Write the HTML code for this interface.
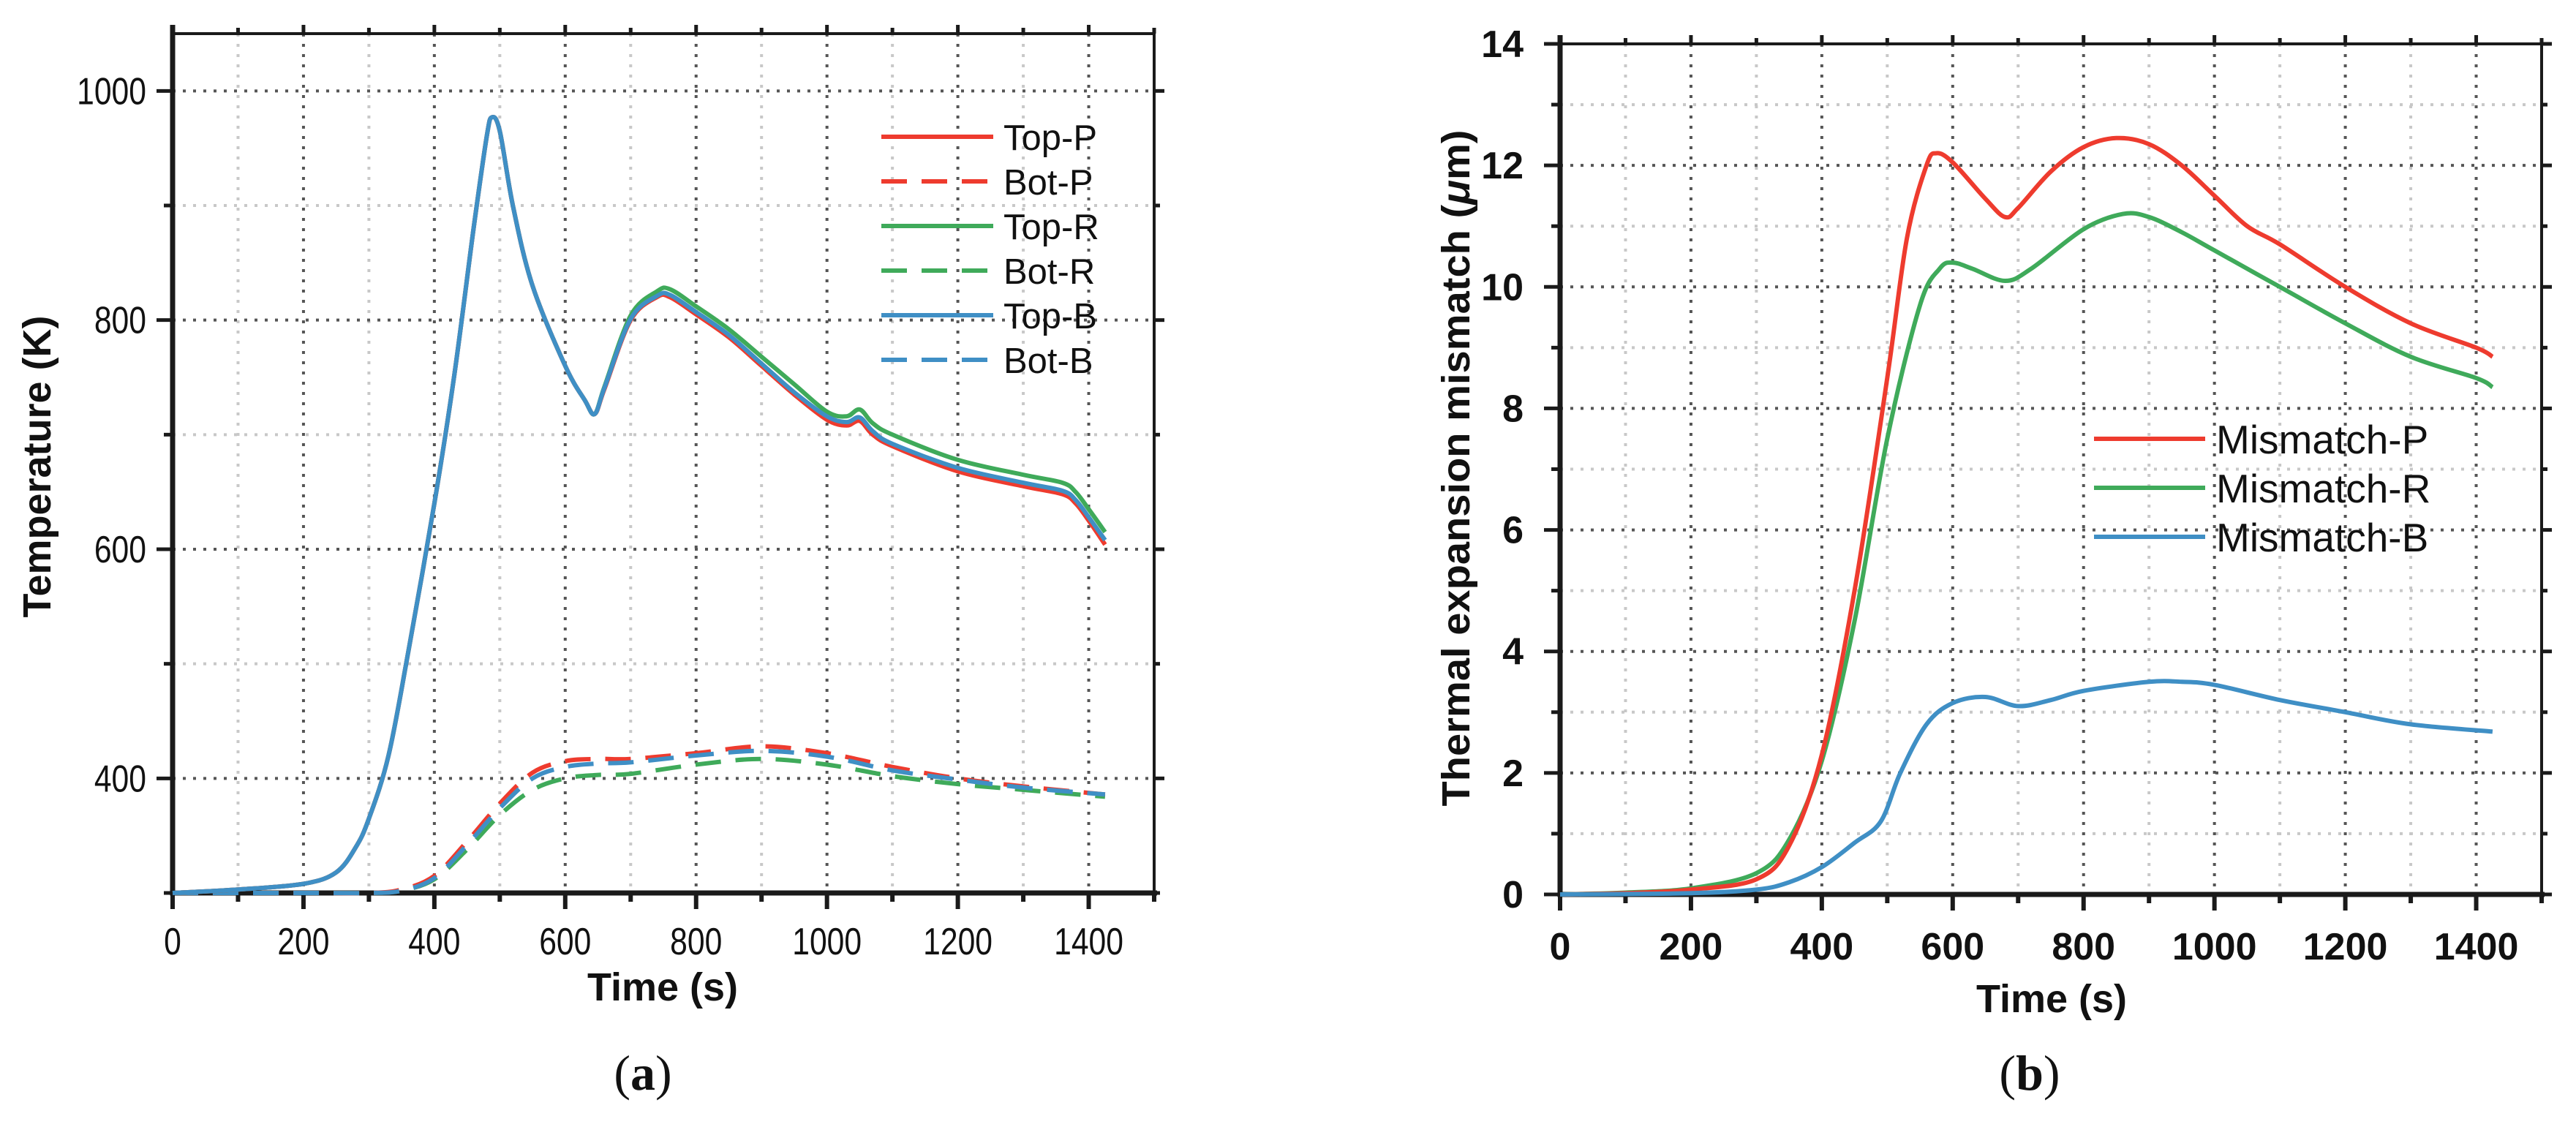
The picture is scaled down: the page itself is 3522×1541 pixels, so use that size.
<!DOCTYPE html>
<html><head><meta charset="utf-8">
<style>
html,body{margin:0;padding:0;background:#fff;}
svg{display:block;}
text{font-family:"Liberation Sans",Arial,sans-serif;fill:#111;}
</style></head>
<body>
<svg id="fig" width="3522" height="1541" viewBox="0 0 3522 1541" xmlns="http://www.w3.org/2000/svg">
<g id="panelA"></g>
<g id="panelB"></g>
<text x="879" y="1490" font-size="68" text-anchor="middle" style="font-family:'Liberation Serif',serif">(<tspan font-weight="bold">a</tspan>)</text>
<text x="2775" y="1490" font-size="68" text-anchor="middle" style="font-family:'Liberation Serif',serif">(<tspan font-weight="bold">b</tspan>)</text>
</svg>
<script>
// ---------- Panel A data ----------
const aTimeTicks = [0,200,400,600,800,1000,1200,1400];
const aTempTicks = [400,600,800,1000];
const topP_t = [0,100,200,250,280,300,330,360,400,430,460,480,488,500,520,550,600,630,645,660,700,740,760,800,850,900,950,1000,1030,1050,1070,1100,1200,1300,1360,1380,1400,1425];
const topP_v = [300,303,308,318,340,365,420,510,640,750,880,960,977,965,900,830,760,730,718,740,800,820,820,805,785,760,735,713,708,712,700,690,668,655,648,640,625,604];
const topR_v = [300,303,308,318,340,365,420,510,640,750,880,960,977,965,900,830,760,730,718,742,804,825,827,812,792,768,744,720,716,722,710,700,678,665,658,650,635,615];
const topB_v = [300,303,308,318,340,365,420,510,640,750,880,960,977,965,900,830,760,730,718,741,801,821,822,807,787,762,737,716,711,715,703,692,671,658,651,643,628,608];
const bot_t = [0,200,300,350,400,450,500,550,600,650,700,800,900,1000,1100,1200,1300,1425];
const botP_v = [300,300,300,303,315,345,378,405,415,417,417,422,428,422,410,400,393,386];
const botR_v = [300,300,300,302,312,338,368,390,400,403,404,412,417,412,402,395,390,384];
const botB_v = [300,300,300,302,313,342,374,400,410,413,414,420,424,419,407,399,392,386];
const aLegend = ["Top-P","Bot-P","Top-R","Bot-R","Top-B","Bot-B"];

// ---------- Panel B data ----------
const bTimeTicks = [0,200,400,600,800,1000,1200,1400];
const bMisTicks = [0,2,4,6,8,10,12,14];
const misP_t = [0,100,200,300,350,400,450,500,530,560,575,600,650,680,700,750,800,850,900,950,1000,1050,1100,1200,1300,1400,1425];
const misP_v = [0,0.02,0.08,0.25,0.8,2.3,5,8.5,10.8,12.0,12.2,12.05,11.45,11.15,11.3,11.9,12.3,12.45,12.35,12.0,11.5,11.0,10.7,10.0,9.4,9.0,8.85];
const misR_t = [0,100,200,300,350,400,450,500,550,580,600,630,680,720,800,860,900,950,1000,1100,1200,1300,1400,1425];
const misR_v = [0,0.03,0.1,0.35,0.9,2.2,4.5,7.5,9.7,10.3,10.4,10.3,10.1,10.3,10.95,11.2,11.15,10.9,10.6,10.0,9.4,8.85,8.5,8.35];
const misB_t = [0,200,300,350,400,450,490,520,560,600,650,700,750,800,900,950,1000,1100,1200,1300,1425];
const misB_v = [0,0.02,0.08,0.2,0.45,0.85,1.2,2.0,2.8,3.15,3.25,3.1,3.2,3.35,3.5,3.5,3.45,3.2,3.0,2.8,2.68];
const bLegend = ["Mismatch-P","Mismatch-R","Mismatch-B"];

const RED="#EE3B2E", GREEN="#3FAA5A", BLUE="#3F8FC5";
const NS="http://www.w3.org/2000/svg";
function mk(parent, tag, attrs){const e=document.createElementNS(NS,tag);for(const k in attrs)e.setAttribute(k,attrs[k]);parent.appendChild(e);return e;}
function smoothPath(xs, ys){
  let d="M"+xs[0].toFixed(1)+","+ys[0].toFixed(1);
  for(let i=0;i<xs.length-1;i++){
    const x0=xs[Math.max(i-1,0)],y0=ys[Math.max(i-1,0)],x1=xs[i],y1=ys[i],x2=xs[i+1],y2=ys[i+1],x3=xs[Math.min(i+2,xs.length-1)],y3=ys[Math.min(i+2,xs.length-1)];
    const c1x=x1+(x2-x0)/6,c1y=y1+(y2-y0)/6,c2x=x2-(x3-x1)/6,c2y=y2-(y3-y1)/6;
    d+=" C"+c1x.toFixed(1)+","+c1y.toFixed(1)+" "+c2x.toFixed(1)+","+c2y.toFixed(1)+" "+x2.toFixed(1)+","+y2.toFixed(1);
  }
  return d;
}

function drawAxes(g, cfg){
  const {L,R,T,B,xmin,xmax,ymin,ymax,xMajor,xMinorStep,yMajor,yMinorStep,bold,narrow,xTickY,yTickX} = cfg;
  const sx=v=>L+(v-xmin)/(xmax-xmin)*(R-L);
  const sy=v=>B-(v-ymin)/(ymax-ymin)*(B-T);
  // minor grid
  for(let v=xmin+xMinorStep; v<xmax; v+=xMinorStep){
    if(xMajor.includes(v)) continue;
    const l=mk(g,"line",{x1:sx(v),x2:sx(v),y1:T,y2:B,stroke:"#c8c8c8","stroke-width":4,"stroke-dasharray":"4 10"});
    
    
  }
  for(let v=ymin+yMinorStep; v<ymax; v+=yMinorStep){
    if(yMajor.includes(v)) continue;
    const l=mk(g,"line",{x1:L,x2:R,y1:sy(v),y2:sy(v),stroke:"#c8c8c8","stroke-width":4,"stroke-dasharray":"4 10"});
    
    
  }
  xMajor.forEach(v=>{ if(v<=xmin||v>=xmax) return;
    const l=mk(g,"line",{x1:sx(v),x2:sx(v),y1:T,y2:B,stroke:"#555","stroke-width":4,"stroke-dasharray":"4 10"});
    
    
  });
  yMajor.forEach(v=>{ if(v<=ymin||v>=ymax) return;
    const l=mk(g,"line",{x1:L,x2:R,y1:sy(v),y2:sy(v),stroke:"#555","stroke-width":4,"stroke-dasharray":"4 10"});
    
    
  });
  // ticks
  for(let v=xmin; v<=xmax; v+=xMinorStep){
    const maj=xMajor.includes(v)||v===xmax&&false;
    const len=maj?22:12;
    const t=mk(g,"line",{x1:sx(v),x2:sx(v),y1:B,y2:B+len,stroke:"#1a1a1a","stroke-width":6});
    
    
    const t2=mk(g,"line",{x1:sx(v),x2:sx(v),y1:T,y2:T-(maj?12:8),stroke:"#1a1a1a","stroke-width":5});
    
    
  }
  for(let v=ymin; v<=ymax+1e-9; v+=yMinorStep){
    const maj=yMajor.includes(v);
    const len=maj?22:12;
    const t=mk(g,"line",{x1:L-len,x2:L,y1:sy(v),y2:sy(v),stroke:"#1a1a1a","stroke-width":5});
    
    
    const t2=mk(g,"line",{x1:R,x2:R+(maj?14:8),y1:sy(v),y2:sy(v),stroke:"#1a1a1a","stroke-width":5});
    
    
  }
  // frame
  const fr=mk(g,"path",{d:`M${L},${T} H${R} V${B}`,fill:"none",stroke:"#1a1a1a","stroke-width":4});
  
  
  const ax=mk(g,"path",{d:`M${L},${T-12} V${B} H${R+4}`,fill:"none",stroke:"#1a1a1a","stroke-width":7});
  
  
  // labels
  xMajor.forEach(v=>{
    const tx=mk(g,"text",{x:sx(v),y:xTickY,"font-size":52,"text-anchor":"middle","font-weight":bold?"bold":"normal"});
    if(narrow) tx.setAttribute("transform",`translate(${sx(v)},0) scale(0.82,1) translate(${-sx(v)},0)`);
    tx.textContent=String(v);
    
    
  });
  yMajor.forEach(v=>{
    const tx=mk(g,"text",{x:yTickX,y:sy(v)+18,"font-size":52,"text-anchor":"end","font-weight":bold?"bold":"normal"});
    if(narrow) tx.setAttribute("transform",`translate(${yTickX},0) scale(0.82,1) translate(${-yTickX},0)`);
    tx.textContent=String(v);
    
    
  });
  return {sx,sy};
}

function drawSeries(g, sx, sy, ts, vs, color, dashed, name){
  const p=mk(g,"path",{d:smoothPath(ts.map(sx),vs.map(sy)),fill:"none",stroke:color,"stroke-width":6,"stroke-linejoin":"round"});
  if(dashed) p.setAttribute("stroke-dasharray","35 20");
  
  
}

// ---------- Panel A ----------
const gA=document.getElementById("panelA");
const A=drawAxes(gA,{L:236,R:1578,T:46,B:1221,xmin:0,xmax:1500,ymin:300,ymax:1050,
  xMajor:aTimeTicks,xMinorStep:100,yMajor:aTempTicks,yMinorStep:100,bold:false,narrow:true,xTickY:1305,yTickX:200});
drawSeries(gA,A.sx,A.sy,bot_t,botR_v,GREEN,true,"bot-r-line");
drawSeries(gA,A.sx,A.sy,bot_t,botP_v,RED,true,"bot-p-line");
drawSeries(gA,A.sx,A.sy,bot_t,botB_v,BLUE,true,"bot-b-line");
drawSeries(gA,A.sx,A.sy,topP_t,topR_v,GREEN,false,"top-r-line");
drawSeries(gA,A.sx,A.sy,topP_t,topP_v,RED,false,"top-p-line");
drawSeries(gA,A.sx,A.sy,topP_t,topB_v,BLUE,false,"top-b-line");
const aColors=[RED,RED,GREEN,GREEN,BLUE,BLUE];
aLegend.forEach((name,i)=>{
  const y=187+i*61;
  const ln=mk(gA,"line",{x1:1205,x2:1358,y1:y,y2:y,stroke:aColors[i],"stroke-width":6});
  if(i%2===1) ln.setAttribute("stroke-dasharray","35 20");
  
  
  const tx=mk(gA,"text",{x:1372,y:y+18,"font-size":49});
  tx.textContent=name;
  
  
});
{
  const t=mk(gA,"text",{x:906,y:1368,"font-size":54,"font-weight":"bold","text-anchor":"middle"});
  t.textContent="Time (s)";
  
  
  const y=mk(gA,"text",{x:0,y:0,"font-size":54,"font-weight":"bold","text-anchor":"middle",transform:"translate(69,638) rotate(-90)"});
  y.textContent="Temperature (K)";
  
  
}

// ---------- Panel B ----------
const gB=document.getElementById("panelB");
const Bx=drawAxes(gB,{L:2133,R:3475,T:60,B:1223,xmin:0,xmax:1500,ymin:0,ymax:14,
  xMajor:bTimeTicks,xMinorStep:100,yMajor:bMisTicks,yMinorStep:1,bold:true,narrow:false,xTickY:1312,yTickX:2083});
drawSeries(gB,Bx.sx,Bx.sy,misR_t,misR_v,GREEN,false,"mismatch-r-line");
drawSeries(gB,Bx.sx,Bx.sy,misP_t,misP_v,RED,false,"mismatch-p-line");
drawSeries(gB,Bx.sx,Bx.sy,misB_t,misB_v,BLUE,false,"mismatch-b-line");
const bColors=[RED,GREEN,BLUE];
bLegend.forEach((name,i)=>{
  const y=600+i*67;
  const ln=mk(gB,"line",{x1:2863,x2:3015,y1:y,y2:y,stroke:bColors[i],"stroke-width":6});
  
  
  const tx=mk(gB,"text",{x:3030,y:y+20,"font-size":55});
  tx.textContent=name;
  
  
});
{
  const t=mk(gB,"text",{x:2805,y:1384,"font-size":54,"font-weight":"bold","text-anchor":"middle"});
  t.textContent="Time (s)";
  
  
  const y=mk(gB,"text",{x:0,y:0,"font-size":54,"font-weight":"bold","text-anchor":"middle",textLength:925,lengthAdjust:"spacingAndGlyphs",transform:"translate(2009,640) rotate(-90)"});
  y.innerHTML='Thermal expansion mismatch (<tspan font-style="italic">μ</tspan>m)';
  
  
}
</script>
</body></html>
